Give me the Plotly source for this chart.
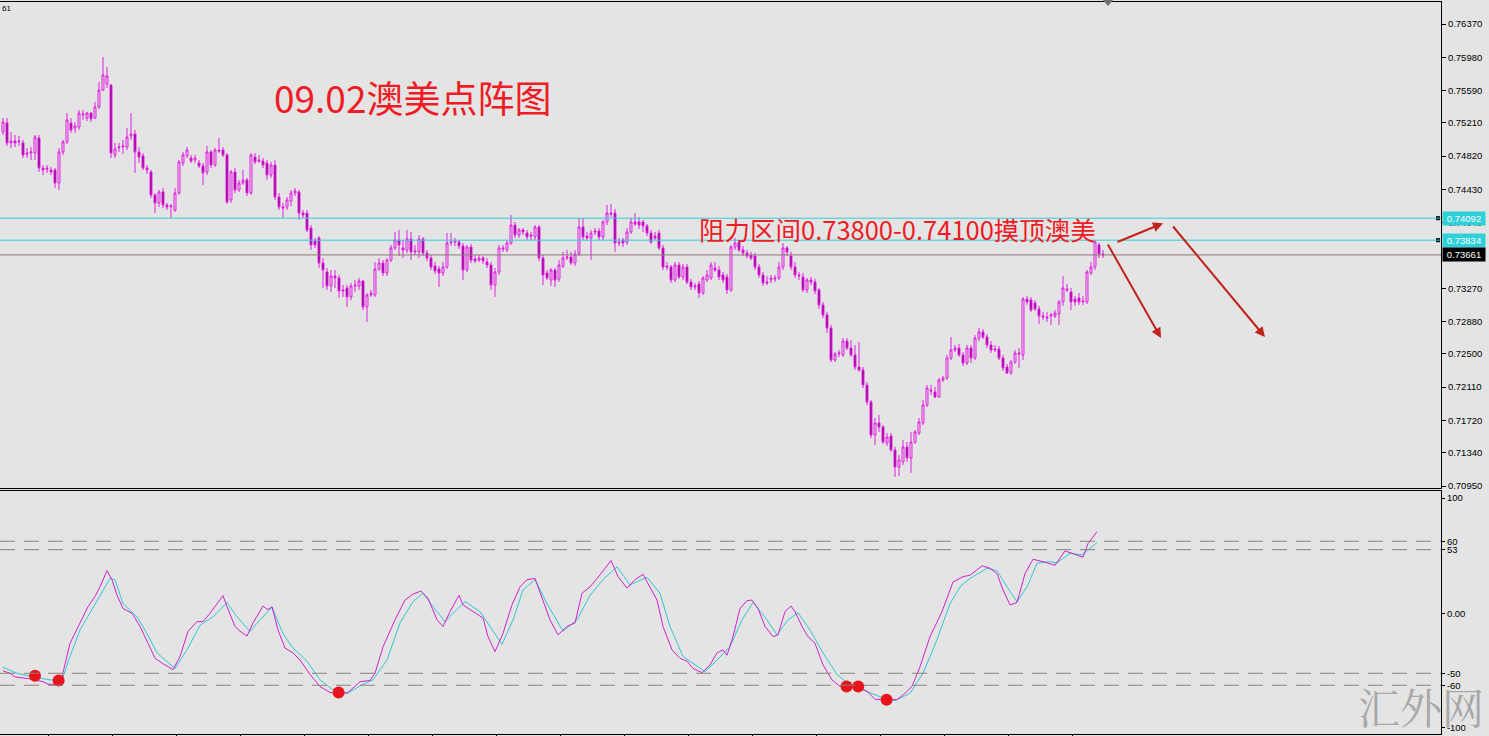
import plotly.graph_objects as go

# AUDUSD candles, one per bar index 0..275
OPEN = [
    0.75104, 0.75209, 0.74975, 0.74998, 0.74987, 0.74975, 0.74857, 0.74857, 0.74857, 0.75033,
    0.74681, 0.74681, 0.74658, 0.74658, 0.74505, 0.74869, 0.74987, 0.75209, 0.75150, 0.75162,
    0.75303, 0.75267, 0.75326, 0.75267, 0.75397, 0.75596, 0.75666, 0.75654, 0.74833, 0.74916,
    0.74928, 0.74928, 0.75057, 0.75080, 0.74869, 0.74822, 0.74681, 0.74635, 0.74364, 0.74271,
    0.74400, 0.74247, 0.74224, 0.74188, 0.74388, 0.74740, 0.74822, 0.74798, 0.74775, 0.74740,
    0.74705, 0.74635, 0.74869, 0.74716, 0.74892, 0.74892, 0.74833, 0.74306, 0.74635, 0.74423,
    0.74505, 0.74540, 0.74388, 0.74810, 0.74775, 0.74763, 0.74740, 0.74599, 0.74716, 0.74341,
    0.74224, 0.74224, 0.74294, 0.74388, 0.74400, 0.74153, 0.74153, 0.73977, 0.73825, 0.73860,
    0.73567, 0.73461, 0.73297, 0.73414, 0.73391, 0.73250, 0.73273, 0.73168, 0.73308, 0.73297,
    0.73355, 0.73050, 0.73191, 0.73191, 0.73496, 0.73567, 0.73449, 0.73601, 0.73743, 0.73836,
    0.73743, 0.73719, 0.73848, 0.73696, 0.73696, 0.73848, 0.73684, 0.73625, 0.73531, 0.73496,
    0.73449, 0.73519, 0.73801, 0.73813, 0.73813, 0.73766, 0.73484, 0.73754, 0.73613, 0.73601,
    0.73625, 0.73578, 0.73543, 0.73308, 0.73461, 0.73743, 0.73719, 0.73801, 0.74012, 0.73895,
    0.73954, 0.73918, 0.73895, 0.73872, 0.73989, 0.73625, 0.73449, 0.73367, 0.73484, 0.73379,
    0.73531, 0.73625, 0.73637, 0.73567, 0.73672, 0.73989, 0.73883, 0.73860, 0.73942, 0.73942,
    0.73872, 0.74047, 0.74153, 0.74153, 0.73813, 0.73836, 0.73813, 0.73930, 0.74047, 0.74048,
    0.74048, 0.74000, 0.73918, 0.73883, 0.73918, 0.73743, 0.73531, 0.73519, 0.73367, 0.73543,
    0.73402, 0.73519, 0.73343, 0.73285, 0.73320, 0.73214, 0.73367, 0.73391, 0.73508, 0.73484,
    0.73426, 0.73402, 0.73250, 0.73754, 0.73813, 0.73719, 0.73684, 0.73660, 0.73649, 0.73519,
    0.73426, 0.73343, 0.73367, 0.73379, 0.73391, 0.73519, 0.73743, 0.73649, 0.73519, 0.73426,
    0.73402, 0.73250, 0.73367, 0.73343, 0.73250, 0.73074, 0.72957, 0.72804, 0.72428, 0.72499,
    0.72487, 0.72651, 0.72569, 0.72487, 0.72346, 0.72311, 0.72135, 0.71936, 0.71548, 0.71689,
    0.71642, 0.71455, 0.71537, 0.71373, 0.71173, 0.71232, 0.71408, 0.71279, 0.71466, 0.71572,
    0.71689, 0.71900, 0.72077, 0.72053, 0.71994, 0.72194, 0.72217, 0.72452, 0.72546, 0.72569,
    0.72487, 0.72393, 0.72569, 0.72452, 0.72686, 0.72757, 0.72698, 0.72604, 0.72557, 0.72557,
    0.72452, 0.72346, 0.72276, 0.72405, 0.72511, 0.72487, 0.73144, 0.73132, 0.73097, 0.73027,
    0.72945, 0.72933, 0.72945, 0.72945, 0.72968, 0.73109, 0.73261, 0.73226, 0.73144, 0.73156,
    0.73109, 0.73109, 0.73449, 0.73519, 0.73778, 0.73672,
]
HIGH = [
    0.75267, 0.75267, 0.75104, 0.75068, 0.75057, 0.75010, 0.74916, 0.74928, 0.75068, 0.75068,
    0.74716, 0.74716, 0.74693, 0.74681, 0.74916, 0.75010, 0.75326, 0.75267, 0.75221, 0.75361,
    0.75361, 0.75338, 0.75338, 0.75456, 0.75690, 0.75983, 0.75866, 0.75666, 0.74975, 0.74975,
    0.75010, 0.75150, 0.75326, 0.75127, 0.74928, 0.74857, 0.74716, 0.74658, 0.74388, 0.74423,
    0.74446, 0.74271, 0.74259, 0.74446, 0.74775, 0.74869, 0.74928, 0.74833, 0.74833, 0.74775,
    0.74740, 0.74940, 0.74892, 0.74916, 0.75033, 0.74928, 0.74857, 0.74658, 0.74681, 0.74540,
    0.74658, 0.74564, 0.74857, 0.74857, 0.74833, 0.74798, 0.74775, 0.74752, 0.74775, 0.74388,
    0.74271, 0.74341, 0.74423, 0.74446, 0.74423, 0.74188, 0.74188, 0.74012, 0.73860, 0.73883,
    0.73625, 0.73508, 0.73484, 0.73484, 0.73426, 0.73308, 0.73308, 0.73332, 0.73367, 0.73391,
    0.73367, 0.73214, 0.73250, 0.73578, 0.73625, 0.73601, 0.73625, 0.73778, 0.73930, 0.73954,
    0.73836, 0.73954, 0.73930, 0.73778, 0.73895, 0.73872, 0.73719, 0.73660, 0.73578, 0.73531,
    0.73578, 0.73918, 0.73918, 0.73860, 0.73836, 0.73801, 0.73778, 0.73790, 0.73660, 0.73660,
    0.73649, 0.73625, 0.73578, 0.73508, 0.73778, 0.73778, 0.73836, 0.74130, 0.74047, 0.73977,
    0.73977, 0.73954, 0.73930, 0.74012, 0.74012, 0.73660, 0.73484, 0.73508, 0.73508, 0.73601,
    0.73696, 0.73719, 0.73696, 0.73719, 0.74094, 0.74094, 0.73930, 0.73954, 0.73977, 0.73977,
    0.74071, 0.74247, 0.74259, 0.74200, 0.73860, 0.73860, 0.73977, 0.74094, 0.74153, 0.74106,
    0.74071, 0.74024, 0.73954, 0.73930, 0.73954, 0.73778, 0.73578, 0.73543, 0.73578, 0.73578,
    0.73555, 0.73555, 0.73379, 0.73332, 0.73355, 0.73414, 0.73484, 0.73578, 0.73578, 0.73531,
    0.73461, 0.73438, 0.73778, 0.73860, 0.73836, 0.73766, 0.73719, 0.73696, 0.73684, 0.73555,
    0.73461, 0.73414, 0.73426, 0.73426, 0.73578, 0.73801, 0.73766, 0.73696, 0.73578, 0.73461,
    0.73449, 0.73391, 0.73402, 0.73379, 0.73273, 0.73109, 0.72992, 0.72839, 0.72522, 0.72546,
    0.72686, 0.72686, 0.72663, 0.72604, 0.72639, 0.72346, 0.72170, 0.71959, 0.71748, 0.71783,
    0.71666, 0.71572, 0.71572, 0.71408, 0.71314, 0.71490, 0.71466, 0.71584, 0.71607, 0.71748,
    0.71959, 0.72135, 0.72135, 0.72112, 0.72217, 0.72241, 0.72487, 0.72698, 0.72604, 0.72616,
    0.72522, 0.72604, 0.72604, 0.72721, 0.72804, 0.72792, 0.72733, 0.72651, 0.72604, 0.72593,
    0.72487, 0.72381, 0.72428, 0.72546, 0.72569, 0.73168, 0.73179, 0.73168, 0.73132, 0.73062,
    0.72992, 0.72992, 0.72980, 0.73015, 0.73132, 0.73414, 0.73320, 0.73273, 0.73179, 0.73214,
    0.73179, 0.73484, 0.73578, 0.73836, 0.73801, 0.73719,
]
LOW = [
    0.75068, 0.74940, 0.74916, 0.74928, 0.74940, 0.74798, 0.74798, 0.74775, 0.74775, 0.74635,
    0.74599, 0.74623, 0.74599, 0.74446, 0.74423, 0.74833, 0.74963, 0.75092, 0.75092, 0.75127,
    0.75244, 0.75233, 0.75221, 0.75256, 0.75373, 0.75584, 0.75619, 0.74798, 0.74798, 0.74869,
    0.74845, 0.74892, 0.75010, 0.74623, 0.74740, 0.74658, 0.74611, 0.74329, 0.74153, 0.74224,
    0.74212, 0.74188, 0.74094, 0.74165, 0.74364, 0.74705, 0.74798, 0.74740, 0.74740, 0.74681,
    0.74481, 0.74599, 0.74681, 0.74693, 0.74857, 0.74810, 0.74259, 0.74271, 0.74388, 0.74400,
    0.74481, 0.74353, 0.74364, 0.74728, 0.74740, 0.74681, 0.74540, 0.74564, 0.74306, 0.74188,
    0.74094, 0.74188, 0.74235, 0.74353, 0.74071, 0.74094, 0.73930, 0.73719, 0.73743, 0.73508,
    0.73273, 0.73250, 0.73226, 0.73273, 0.73156, 0.73168, 0.73050, 0.73132, 0.73226, 0.73250,
    0.73015, 0.72875, 0.73168, 0.73168, 0.73473, 0.73414, 0.73414, 0.73578, 0.73719, 0.73649,
    0.73625, 0.73684, 0.73601, 0.73660, 0.73625, 0.73649, 0.73590, 0.73484, 0.73438, 0.73285,
    0.73414, 0.73496, 0.73766, 0.73766, 0.73731, 0.73367, 0.73461, 0.73567, 0.73567, 0.73578,
    0.73555, 0.73508, 0.73250, 0.73168, 0.73426, 0.73696, 0.73696, 0.73778, 0.73860, 0.73860,
    0.73895, 0.73836, 0.73836, 0.73836, 0.73590, 0.73308, 0.73367, 0.73297, 0.73285, 0.73343,
    0.73508, 0.73601, 0.73543, 0.73531, 0.73649, 0.73836, 0.73825, 0.73601, 0.73895, 0.73836,
    0.73836, 0.74012, 0.74106, 0.73696, 0.73766, 0.73754, 0.73778, 0.73907, 0.74000, 0.73965,
    0.73930, 0.73883, 0.73790, 0.73836, 0.73719, 0.73484, 0.73484, 0.73332, 0.73343, 0.73379,
    0.73367, 0.73320, 0.73250, 0.73250, 0.73156, 0.73191, 0.73343, 0.73367, 0.73461, 0.73367,
    0.73332, 0.73203, 0.73226, 0.73719, 0.73696, 0.73649, 0.73625, 0.73601, 0.73484, 0.73391,
    0.73297, 0.73308, 0.73332, 0.73343, 0.73367, 0.73484, 0.73649, 0.73484, 0.73391, 0.73367,
    0.73226, 0.73214, 0.73308, 0.73203, 0.73027, 0.72921, 0.72745, 0.72405, 0.72405, 0.72464,
    0.72464, 0.72546, 0.72464, 0.72311, 0.72288, 0.72100, 0.71900, 0.71513, 0.71431, 0.71584,
    0.71443, 0.71420, 0.71349, 0.71056, 0.71068, 0.71197, 0.71232, 0.71103, 0.71443, 0.71548,
    0.71666, 0.71877, 0.72018, 0.71982, 0.71982, 0.72170, 0.72194, 0.72428, 0.72522, 0.72464,
    0.72358, 0.72370, 0.72393, 0.72428, 0.72651, 0.72674, 0.72569, 0.72511, 0.72522, 0.72428,
    0.72300, 0.72264, 0.72253, 0.72381, 0.72335, 0.72428, 0.73074, 0.72992, 0.73003, 0.72851,
    0.72898, 0.72875, 0.72839, 0.72921, 0.72839, 0.73062, 0.73226, 0.73015, 0.73062, 0.73074,
    0.73074, 0.73086, 0.73426, 0.73484, 0.73625, 0.73625,
]
CLOSE = [
    0.75221, 0.74975, 0.74998, 0.74975, 0.74998, 0.74833, 0.74845, 0.74869, 0.75045, 0.74681,
    0.74658, 0.74670, 0.74635, 0.74505, 0.74869, 0.74987, 0.75244, 0.75127, 0.75174, 0.75326,
    0.75314, 0.75326, 0.75256, 0.75397, 0.75596, 0.75772, 0.75761, 0.74857, 0.74904, 0.74928,
    0.74940, 0.75045, 0.75080, 0.74869, 0.74810, 0.74681, 0.74658, 0.74364, 0.74271, 0.74400,
    0.74247, 0.74224, 0.74235, 0.74388, 0.74752, 0.74833, 0.74892, 0.74763, 0.74798, 0.74705,
    0.74623, 0.74869, 0.74716, 0.74892, 0.74880, 0.74833, 0.74282, 0.74635, 0.74423, 0.74505,
    0.74540, 0.74388, 0.74833, 0.74752, 0.74763, 0.74716, 0.74599, 0.74716, 0.74341, 0.74224,
    0.74212, 0.74306, 0.74388, 0.74411, 0.74153, 0.74130, 0.73954, 0.73778, 0.73778, 0.73567,
    0.73484, 0.73297, 0.73414, 0.73391, 0.73238, 0.73238, 0.73168, 0.73297, 0.73297, 0.73355,
    0.73050, 0.73191, 0.73214, 0.73496, 0.73567, 0.73449, 0.73601, 0.73743, 0.73836, 0.73778,
    0.73719, 0.73848, 0.73696, 0.73707, 0.73848, 0.73684, 0.73625, 0.73519, 0.73473, 0.73449,
    0.73519, 0.73801, 0.73813, 0.73825, 0.73766, 0.73484, 0.73754, 0.73601, 0.73590, 0.73625,
    0.73590, 0.73543, 0.73308, 0.73461, 0.73743, 0.73731, 0.73801, 0.74012, 0.73895, 0.73954,
    0.73930, 0.73872, 0.73883, 0.73989, 0.73625, 0.73426, 0.73391, 0.73484, 0.73367, 0.73543,
    0.73625, 0.73637, 0.73567, 0.73672, 0.73989, 0.73872, 0.73860, 0.73918, 0.73930, 0.73872,
    0.74047, 0.74153, 0.74141, 0.73801, 0.73801, 0.73801, 0.73930, 0.74047, 0.74024, 0.74012,
    0.74000, 0.73918, 0.73813, 0.73860, 0.73743, 0.73519, 0.73519, 0.73367, 0.73543, 0.73402,
    0.73519, 0.73343, 0.73285, 0.73297, 0.73214, 0.73391, 0.73426, 0.73543, 0.73484, 0.73402,
    0.73367, 0.73250, 0.73754, 0.73801, 0.73719, 0.73684, 0.73649, 0.73625, 0.73519, 0.73426,
    0.73332, 0.73332, 0.73391, 0.73391, 0.73519, 0.73743, 0.73696, 0.73519, 0.73426, 0.73414,
    0.73250, 0.73367, 0.73343, 0.73238, 0.73074, 0.72957, 0.72804, 0.72428, 0.72499, 0.72511,
    0.72651, 0.72569, 0.72487, 0.72346, 0.72311, 0.72135, 0.71936, 0.71548, 0.71689, 0.71642,
    0.71466, 0.71525, 0.71373, 0.71173, 0.71255, 0.71408, 0.71279, 0.71466, 0.71584, 0.71701,
    0.71900, 0.72100, 0.72065, 0.71994, 0.72194, 0.72217, 0.72452, 0.72546, 0.72569, 0.72487,
    0.72393, 0.72569, 0.72452, 0.72686, 0.72757, 0.72698, 0.72604, 0.72546, 0.72546, 0.72452,
    0.72335, 0.72276, 0.72405, 0.72511, 0.72499, 0.73144, 0.73109, 0.73015, 0.73027, 0.72945,
    0.72933, 0.72921, 0.72957, 0.72980, 0.73109, 0.73273, 0.73250, 0.73109, 0.73109, 0.73109,
    0.73121, 0.73461, 0.73519, 0.73813, 0.73672, 0.73661,
]
BARS = list(range(len(CLOSE)))

# oscillator, main line (magenta) and signal line (cyan), sampled along the bars
MAIN_X = [0, 1.75, 3, 6.75, 10, 11.25, 13.75, 14.75, 16.75, 19.25, 21.25, 23, 24.25, 26, 27.25,
          28.5, 30, 32.25, 34.25, 36.25, 38, 40, 42.5, 44.25, 46.25, 48.5, 50, 51.75, 53.5, 55,
          56, 58, 59.25, 61, 62.5, 65, 66.25, 67.25, 68.75, 70.5, 72.5, 74.25, 76.75, 79.25,
          81.75, 83.75, 86.25, 89.25, 91.75, 93, 95, 98, 100.5, 102.5, 104.5, 106.25, 108.5,
          110, 111.75, 114, 115, 117.5, 120, 121.25, 123, 125, 127.25, 129.25, 131, 133,
          134.75, 136.75, 138.75, 141, 143, 144.75, 146.75, 149.25, 152, 153.75, 156, 158, 160,
          161.75, 163.5, 165, 167.25, 169.25, 171, 172.5, 174.75, 176.75, 178.5, 180, 181,
          182.5, 184.25, 186, 187.25, 188.75, 190.5, 192.5, 193.75, 195.5, 197, 198, 199.75,
          201.25, 203, 205, 207.25, 209.25, 211, 213.75, 216, 218, 221, 223.5, 225.5, 227.25,
          229.25, 231.75, 234.75, 237.5, 240, 241.75, 244.75, 246.75, 248.5, 250, 251.75,
          253.5, 255.5, 257.5, 260, 263, 265.5, 268, 270, 271.25, 273.5]
MAIN_Y = [-48, -50, -53, -54.7, -57, -59, -59.5, -53, -25, -8, 5.5, 14, 22, 35.5, 28,
          15, 4, 0, -11, -25, -37.5, -42, -47, -36, -15, -7, -7, 0, 8, 14.7,
          5.5, -11, -15, -19, -8, 6, 3, 5.5, -14, -29, -33, -39, -51, -61,
          -66, -67, -66, -57, -56, -50, -28, -5.5, 11, 16, 18.5, 12.5, -5.5,
          -11, 1.4, 15, 7, 1.4, -4, -19.5, -32, -16.7, 7, 22, 28, 29,
          12.5, -5.5, -18, -11, -8, 16.7, 22, 32, 44, 30.5, 21, 28, 32.5,
          22, 11, -11, -30.5, -37.5, -40, -46, -49.5, -43, -33, -30.5, -35,
          -19.5, 4, 10.5, 11, 4, -11, -19.5, -18, 1.4, 6, 1.4, -11,
          -19.5, -25, -43, -55.5, -61, -61.5, -61.5, -65, -71.7, -72, -72, -66.7, -61,
          -44.5, -19.5, 1.4, 26, 30.5, 31.7, 39.5, 37.5, 33, 19.4, 7,
          9, 33, 45, 43, 40, 52, 49.4, 46.7, 58, 68]

SIGNAL_X = [0, 3.5, 7.5, 11.75, 14.75, 16.75, 19.25, 21.75, 24.25, 26.75, 28, 30, 33.5, 36,
            38.5, 43, 46, 49.25, 52.5, 56, 58.5, 61.75, 64.25, 67.25, 70, 72.5, 76, 79.25,
            82.5, 86, 89.25, 92.5, 96, 99.25, 102.5, 105, 107.5, 110.5, 112.5, 115.5, 119.25,
            121.75, 124.75, 127.5, 130, 133, 136, 140, 143.5, 146.75, 150, 153.5, 156.75, 161,
            164.25, 166.75, 170, 172.5, 175.5, 178.5, 181.75, 184.75, 187.5, 191, 193.5,
            196.25, 198.75, 201.75, 205, 208.5, 211.75, 215, 219.25, 223, 226.75, 230, 233.5,
            236.75, 239.5, 241.75, 246, 248.5, 251, 253.5, 256, 258.5, 261.75, 263.5, 266.75,
            269.75, 271.25, 273.5]
SIGNAL_Y = [-45, -50, -53, -55.5, -55.5, -36, -14, 0, 15, 29, 28, 8, -3, -17,
            -33, -46, -30.5, -10, -3, 9, -3, -15, -5.5, 5, -17, -29, -40, -55.5,
            -64, -67, -60.5, -55.5, -39, -8, 9.7, 16.7, 5.5, -7, 0, 9.7, 1.4,
            -11, -26, -5.5, 19.4, 28, 8, -15, -5.5, 15, 28, 38.8, 23.6, 30,
            16.7, -11, -36, -41.7, -48.6, -39, -28, -5.5, 9, -5.5, -18,
            -5.5, 0.5, -14, -33, -51, -59.7, -64, -69.5, -72.8, -66.7, -50, -22,
            8, 23, 29, 37.5, 35.5, 22, 9.7, 22, 41.7, 43, 42, 50,
            48.6, 52.7, 58.9]

# red signal dots on the oscillator
DOT_X = [8, 13.9, 83.9, 210.9, 213.8, 220.9]
DOT_Y = [-52, -56, -66, -61, -61, -72]

OSC_LEVELS = [60, 53, -50, -60]
RESIST_LEVELS = [0.74092, 0.73834]
BID = 0.73661

PRICE_TICKS = [0.7637, 0.7598, 0.7559, 0.7521, 0.7482, 0.7443, 0.7404,
               0.7327, 0.7288, 0.7250, 0.7211, 0.7172, 0.7134, 0.7095]
OSC_TICKS = [96, 60, 53, 0, -50, -60, -95]
OSC_TICK_TEXT = ["100", "60", "53", "0.00", "-50", "-60", "-100"]
TIME_TICKS = [11.25 + 16 * k for k in range(17)]

# drawn arrows: (tail bar, tail price, head bar, head price)
ARROWS = [
    (278.25, 0.73806, 290.0, 0.74032),
    (276.0, 0.73801, 289.5, 0.72687),
    (292.2, 0.74012, 315.5, 0.72698),
]

BG = "#e4e4e4"
CANDLE = "#e020e0"
CYAN = "#30d0d8"
font_ax = dict(family="Liberation Sans, Arial", size=9.5, color="black")

fig = go.Figure()

fig.add_trace(go.Candlestick(
    x=BARS, open=OPEN, high=HIGH, low=LOW, close=CLOSE,
    increasing=dict(line=dict(color=CANDLE, width=1), fillcolor=BG),
    decreasing=dict(line=dict(color=CANDLE, width=1), fillcolor="#800080"),
    whiskerwidth=0, hoverinfo="skip", showlegend=False,
    xaxis="x", yaxis="y",
))

fig.add_trace(go.Scatter(x=SIGNAL_X, y=SIGNAL_Y, mode="lines",
                         line=dict(color="#30c8d0", width=1),
                         xaxis="x2", yaxis="y2", showlegend=False, hoverinfo="skip"))
fig.add_trace(go.Scatter(x=MAIN_X, y=MAIN_Y, mode="lines",
                         line=dict(color="#d020d0", width=1),
                         xaxis="x2", yaxis="y2", showlegend=False, hoverinfo="skip"))
fig.add_trace(go.Scatter(x=DOT_X, y=DOT_Y, mode="markers",
                         marker=dict(color="#e8141c", size=12),
                         xaxis="x2", yaxis="y2", showlegend=False, hoverinfo="skip"))

# small black squares at the end of the resistance lines
fig.add_trace(go.Scatter(x=[358.75] * len(RESIST_LEVELS), y=RESIST_LEVELS, mode="markers",
                         marker=dict(color="black", size=4, symbol="square"),
                         xaxis="x", yaxis="y", showlegend=False, hoverinfo="skip"))

shapes = []
for lv in RESIST_LEVELS:
    shapes.append(dict(type="line", xref="paper", x0=0, x1=1, yref="y", y0=lv, y1=lv,
                       line=dict(color=CYAN, width=1)))
shapes.append(dict(type="line", xref="paper", x0=0, x1=1, yref="y", y0=BID, y1=BID,
                   line=dict(color="#8b7b74", width=1)))
for lv in OSC_LEVELS:
    shapes.append(dict(type="line", xref="paper", x0=0, x1=1, yref="y2", y0=lv, y1=lv,
                       line=dict(color="#8c8078", width=1, dash="15px,9px")))
# little shift marker at the top
shapes.append(dict(type="path", xref="paper", yref="paper",
                   path="M 0.7654 1.0027 L 0.7724 1.0027 L 0.7689 0.9945 Z",
                   fillcolor="#707070", line=dict(width=0)))

annotations = []
label_font = dict(family="Liberation Sans, Arial", size=9.5, color="white")
for lv in RESIST_LEVELS:
    annotations.append(dict(xref="paper", x=1, xanchor="left", xshift=1, yref="y", y=lv,
                            text=f"{lv:.5f}", showarrow=False, bgcolor=CYAN, borderpad=0,
                            width=42, height=13, font=label_font))
annotations.append(dict(xref="paper", x=1, xanchor="left", xshift=1, yref="y", y=BID,
                        text=f"{BID:.5f}", showarrow=False, bgcolor="black", borderpad=0,
                        width=42, height=13, font=label_font))

for tx, ty, hx, hy in ARROWS:
    annotations.append(dict(x=hx, y=hy, xref="x", yref="y", ax=tx, ay=ty, axref="x", ayref="y",
                            showarrow=True, arrowhead=2, arrowsize=1, arrowwidth=2,
                            arrowcolor="#c0221c", text=""))

annotations.append(dict(xref="paper", yref="paper", x=272 / 1441, y=(734 - 97) / 732,
                        xanchor="left", yanchor="middle", showarrow=False,
                        text="09.02澳美点阵图",
                        font=dict(family="Noto Sans CJK SC", size=37, color="#ee1c24")))
annotations.append(dict(xref="paper", yref="paper", x=697 / 1441, y=(734 - 229) / 732,
                        xanchor="left", yanchor="middle", showarrow=False,
                        text="阻力区间0.73800-0.74100摸顶澳美",
                        font=dict(family="Noto Sans CJK SC", size=25.5, color="#ee1c24")))
annotations.append(dict(xref="paper", yref="paper", x=0, y=(734 - 9) / 732,
                        xanchor="left", yanchor="middle", showarrow=False, text="61",
                        font=dict(family="Liberation Sans, Arial", size=8, color="black")))
annotations.append(dict(xref="paper", yref="paper", x=1421 / 1441, y=(734 - 706) / 732,
                        xanchor="center", yanchor="middle", showarrow=False, text="汇外网",
                        font=dict(family="Noto Serif CJK SC, Noto Sans CJK SC", size=42,
                                  color="#a8a8a8")))

fig.update_layout(
    width=1489, height=736,
    margin=dict(l=0, r=48, t=2, b=2, autoexpand=False),
    paper_bgcolor=BG, plot_bgcolor=BG,
    showlegend=False, hovermode=False,
    shapes=shapes, annotations=annotations,
    xaxis=dict(domain=[0, 1], range=[-0.75, 359.5], showgrid=False, zeroline=False,
               showticklabels=False, ticks="", showline=True, mirror=True,
               linecolor="black", linewidth=1, rangeslider=dict(visible=False),
               anchor="y"),
    yaxis=dict(domain=[0.3361, 1], range=[0.709268, 0.766285], side="right",
               showgrid=False, zeroline=False, tickvals=PRICE_TICKS, tickformat=".5f",
               ticks="outside", ticklen=4, tickcolor="black", tickfont=font_ax,
               showline=True, linecolor="black", linewidth=1, anchor="x"),
    xaxis2=dict(domain=[0, 1], range=[-0.75, 359.5], matches="x", showgrid=False,
                zeroline=False, showticklabels=False, tickvals=TIME_TICKS, ticks="outside",
                ticklen=4, tickcolor="black", showline=True, mirror=True,
                linecolor="black", linewidth=1, anchor="y2"),
    yaxis2=dict(domain=[0, 0.332], range=[-100.6, 101.9], side="right", showgrid=False,
                zeroline=False, tickvals=OSC_TICKS, ticktext=OSC_TICK_TEXT,
                ticks="outside", ticklen=3, tickcolor="black", tickfont=font_ax,
                showline=True, linecolor="black", linewidth=1, anchor="x2"),
)

# the page's default body margin would shift the chart by 8px
fig.write_html("out.html", config={"displayModeBar": False},
               post_script="document.body.style.margin='0';"
                           "document.body.style.overflow='hidden';")
